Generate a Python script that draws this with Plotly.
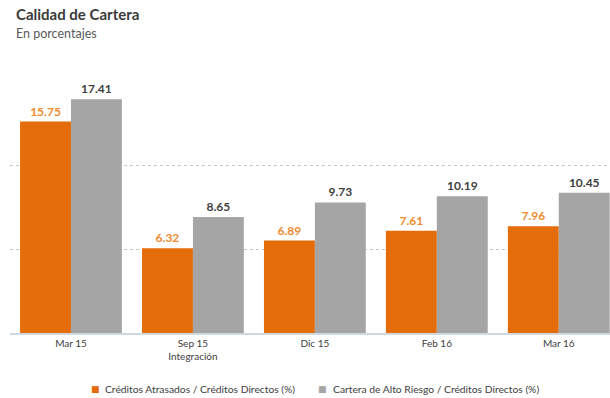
import plotly.graph_objects as go

categories = ["Mar 15", "Sep 15<br>Integración", "Dic 15", "Feb 16", "Mar 16"]
atrasados = [15.75, 6.32, 6.89, 7.61, 7.96]
alto_riesgo = [17.41, 8.65, 9.73, 10.19, 10.45]
grid_vals = [6.25, 12.5]
series_names = ["Créditos Atrasados / Créditos Directos (%)",
                "Cartera de Alto Riesgo / Créditos Directos (%)"]

orange = "#E46C0A"
gray = "#A5A5A5"
font_family = "Lato, 'Open Sans', sans-serif"

W, H = 610, 398
ML, MR, MT, MB = 10, 0, 78, 65
PW, PH = W - ML - MR, H - MT - MB


def px_x(px):
    return (px - ML) / PW


def px_y(py):
    return (H - MB - py) / PH


fig = go.Figure()
fig.add_trace(go.Bar(
    x=categories, y=atrasados, name=series_names[0], showlegend=False,
    marker=dict(color=orange, line=dict(width=0)),
    text=[f"<b>{v:.2f}</b>" for v in atrasados], textposition="outside",
    textfont=dict(color="#F08A2E", size=12, family=font_family),
    cliponaxis=False,
))
fig.add_trace(go.Bar(
    x=categories, y=alto_riesgo, name=series_names[1], showlegend=False,
    marker=dict(color=gray, line=dict(width=0)),
    text=[f"<b>{v:.2f}</b>" for v in alto_riesgo], textposition="outside",
    textfont=dict(color="#404040", size=12, family=font_family),
    cliponaxis=False,
))

annotations = [
    dict(text="<b>Calidad de Cartera</b>", xref="paper", yref="paper", x=0, y=1,
         xanchor="left", yanchor="top", showarrow=False,
         font=dict(size=15, color="#3A3A3A", family=font_family),
         xshift=4, yshift=75),
    dict(text="En porcentajes", xref="paper", yref="paper", x=0, y=1,
         xanchor="left", yanchor="top", showarrow=False,
         font=dict(size=12.5, color="#595959", family=font_family),
         xshift=4, yshift=54),
]
# legend drawn as swatch + label
legend_pos = [(95, 103), (323, 331)]
for name, col, (sx, tx) in zip(series_names, [orange, gray], legend_pos):
    annotations.append(dict(text="■", xref="paper", yref="paper", x=px_x(sx), y=px_y(389),
                            xanchor="center", yanchor="middle", showarrow=False,
                            font=dict(size=9, color=col, family="DejaVu Sans")))
    annotations.append(dict(text=name, xref="paper", yref="paper", x=px_x(tx), y=px_y(389),
                            xanchor="left", yanchor="middle", showarrow=False,
                            font=dict(size=10.3, color="#404040", family=font_family)))

fig.update_layout(
    width=W, height=H,
    margin=dict(l=ML, r=MR, t=MT, b=MB),
    paper_bgcolor="white", plot_bgcolor="white",
    barmode="group", bargap=0.165, bargroupgap=0,
    font=dict(family=font_family, color="#404040", size=10),
    showlegend=False,
    annotations=annotations,
    xaxis=dict(range=[-0.5, 4.42], showgrid=False, zeroline=False,
               showline=True, linecolor="#D0D8E0", linewidth=1.5,
               ticks="", tickfont=dict(size=10, color="#404040")),
    yaxis=dict(range=[0, 19], tickvals=grid_vals, showticklabels=False,
               showgrid=True, gridcolor="#C8C8C8", griddash="dot", gridwidth=1,
               zeroline=False, showline=False),
)

fig.write_html("out.html")
